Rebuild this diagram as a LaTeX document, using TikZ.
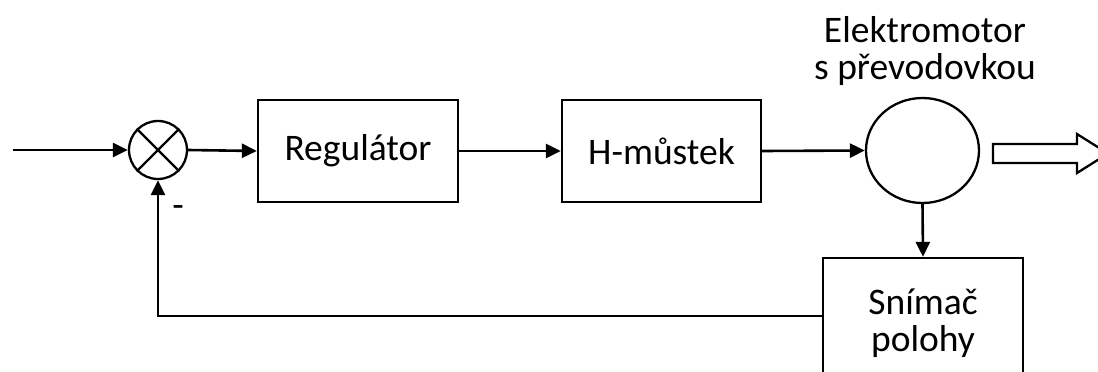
\documentclass[tikz,border=0pt]{standalone}
\usepackage{fontspec}
\setmainfont{Carlito}
\usetikzlibrary{arrows.meta,shapes.geometric,calc}
\tikzset{
  ln/.style={line width=2.6pt},
  arr/.style={ln,-{Triangle[length=15pt,width=14pt]}},
  blk/.style={draw,line width=2.3pt,rectangle,inner sep=0pt,font=\fontsize{37.5}{40}\selectfont},
  lbl/.style={font=\fontsize{37.5}{37}\selectfont,align=center,inner sep=0pt}
}
\begin{document}
\begin{tikzpicture}[x=1pt,y=-1pt]
\useasboundingbox (0,0) rectangle (1098,372);
\clip (0,0) rectangle (1098,372);
\fill[white] (0,0) rectangle (1098,372);
\coordinate (in) at (13,150);
\node[draw,circle,line width=2.3pt,minimum size=58pt,inner sep=0pt] (sum) at (158,150) {};
\draw[line width=2.3pt] (sum.45) -- (sum.225) (sum.135) -- (sum.315);
\node[blk,minimum width=200pt,minimum height=102pt] (reg) at (358,151) {Regulátor};
\node[blk,minimum width=199pt,minimum height=102pt] (hm) at (661.5,151) {H-můstek};
\node[draw,ellipse,line width=2.3pt,minimum width=113pt,minimum height=105pt,inner sep=0pt] (mot) at (922.5,150.5) {};
\node[lbl,anchor=south] (motl) at (925,91) {Elektromotor\\s převodovkou\strut};
\node[blk,minimum width=200pt,minimum height=130pt,align=center,font=\fontsize{37.5}{37}\selectfont] (sn) at (923,323) {Snímač\\polohy};
\node[font=\fontsize{37.5}{40}\selectfont,inner sep=0pt] (minus) at (178,212) {-};
\coordinate (fb) at (156,316);
\draw[arr] (in) -- (sum.west);
\draw[arr] (sum.east) -- (reg.west);
\draw[arr] (reg.east) -- (hm.west);
\draw[arr] (hm.east) -- (mot.west);
\draw[arr] (mot.south) -- (sn.north);
\draw[arr] (sn.west |- fb) -| (sum.south);
\draw[line width=2.3pt] (993,144) -- (1077,144) -- (1077,134) -- (1108,153.5) -- (1077,173) -- (1077,163) -- (993,163) -- cycle;
\end{tikzpicture}
\end{document}
